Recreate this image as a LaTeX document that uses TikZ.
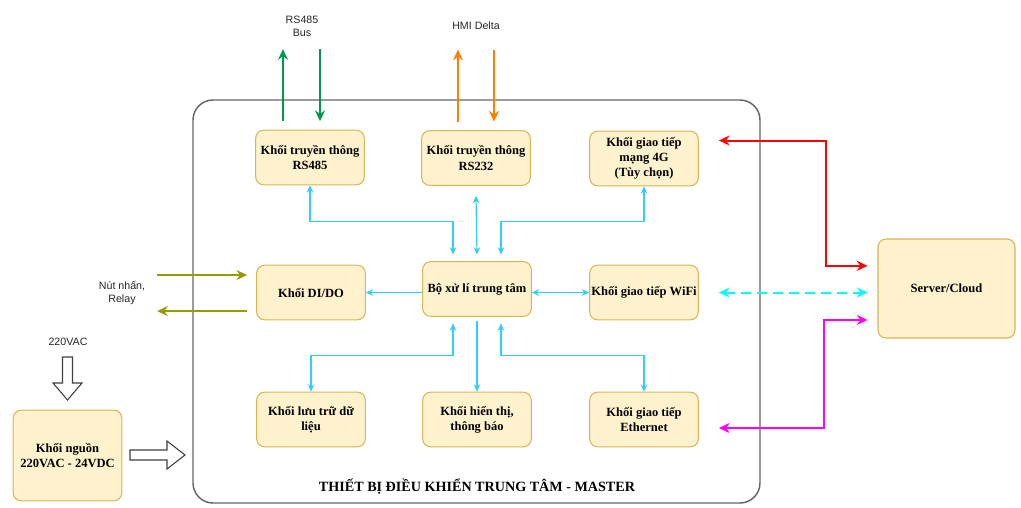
\documentclass[tikz,border=0pt]{standalone}
\usepackage{fontspec}
\setmainfont{Liberation Serif}
\setsansfont{Liberation Sans}
\usetikzlibrary{arrows.meta}
\definecolor{boxfill}{HTML}{FFF2CC}
\definecolor{boxline}{HTML}{D6B656}
\definecolor{conncol}{HTML}{33CCFF}
\definecolor{grn}{HTML}{00994D}
\definecolor{org}{HTML}{FF8000}
\definecolor{oliv}{HTML}{999900}
\definecolor{frame}{HTML}{666666}
\definecolor{cyn}{HTML}{00FFFF}
\definecolor{mag}{HTML}{FF00FF}
\definecolor{rd}{HTML}{FF0000}
\tikzset{
  blk/.style={draw=boxline,fill=boxfill,line width=0.8pt,rounded corners=6pt,
    minimum width=81.5pt,minimum height=41pt,align=center,inner sep=1pt,
    font=\fontsize{9.4pt}{11.3pt}\selectfont\bfseries},
  conn/.style={draw=conncol,line width=0.9pt},
  bi/.style={conn,{Stealth[length=5.5pt,width=5pt]}-{Stealth[length=5.5pt,width=5pt]}},
  uni/.style={conn,-{Stealth[length=5.5pt,width=5pt]}},
  ext/.style={line width=1.5pt,-{Stealth[length=8pt,width=7.5pt]}},
  extrev/.style={line width=1.5pt,{Stealth[length=8pt,width=7.5pt]}-},
  extbi/.style={line width=1.5pt,{Stealth[length=8pt,width=7.5pt]}-{Stealth[length=8pt,width=7.5pt]}},
  lbl/.style={font=\sffamily\fontsize{8pt}{10pt}\selectfont,align=center,text=black!85},
  hollow/.style={draw=black!75,line width=0.8pt,fill=white}
}
\begin{document}
\begin{tikzpicture}[x=0.75pt,y=-0.75pt]
\useasboundingbox (0,0) rectangle (1021,507);
% container
\draw[frame,line width=1.1pt,rounded corners=15pt] (193,100) rectangle (760,503);
\node[font=\fontsize{10.6pt}{12pt}\selectfont\bfseries] (title) at (477,487) {THIẾT BỊ ĐIỀU KHIỂN TRUNG TÂM - MASTER};
% blocks
\node[blk] (rs485) at (310,157.5) {Khối truyền thông\\RS485};
\node[blk] (rs232) at (476,158) {Khối truyền thông\\RS232};
\node[blk] (fourG) at (644,158.5) {Khối giao tiếp\\mạng 4G\\(Tùy chọn)};
\node[blk] (dido) at (311,292.5) {Khối DI/DO};
\node[blk] (cpu) at (477,289) {Bộ xử lí trung tâm};
\node[blk] (wifi) at (644,292.5) {Khối giao tiếp WiFi};
\node[blk] (store) at (311,419.5) {Khối lưu trữ dữ\\liệu};
\node[blk] (disp) at (477,419.5) {Khối hiển thị,\\thông báo};
\node[blk] (eth) at (644,419.5) {Khối giao tiếp\\Ethernet};
\node[blk,minimum height=68pt] (power) at (67.5,455.5) {Khối nguồn\\220VAC - 24VDC};
\node[blk,minimum width=102.75pt,minimum height=74.25pt] (server) at (946.5,288.5) {Server/Cloud};
% internal connectors
\draw[bi] ([xshift=-18pt,yshift=5pt]cpu.north) -- ++(0,-33) -| (rs485.south);
\draw[bi] ([yshift=5pt]cpu.north) -- ([yshift=-7.5pt]rs232.south);
\draw[bi] ([xshift=18pt,yshift=5pt]cpu.north) -- ++(0,-33) -| (fourG.south);
\draw[uni] (dido.east -| cpu.west) -- (dido.east);
\draw[bi] (wifi.west -| cpu.east) -- (wifi.west);
\draw[bi] ([xshift=-18pt,yshift=-5pt]cpu.south) -- ++(0,32) -| (store.north);
\draw[uni] ([yshift=-3pt]cpu.south) -- (disp.north);
\draw[bi] ([xshift=18pt,yshift=-5pt]cpu.south) -- ++(0,32) -| (eth.north);
% RS485 bus
\node[lbl] (buslbl) at (302,26) {RS485\\Bus};
\draw[ext,grn] ([xshift=-20.25pt,yshift=6.4pt]rs485.north) -- ++(0,-72);
\draw[extrev,grn] ([xshift=7.5pt,yshift=6.4pt]rs485.north) -- ++(0,-72);
% HMI
\node[lbl] (hmilbl) at (476,26) {HMI Delta};
\draw[ext,org] ([xshift=-13.5pt,yshift=6.4pt]rs232.north) -- ++(0,-72);
\draw[extrev,org] ([xshift=13.5pt,yshift=6.4pt]rs232.north) -- ++(0,-72);
% server links
\draw[extbi,rd] ([xshift=15pt,yshift=13.5pt]fourG.east) -- ++(107,0) |- ([xshift=-7.5pt,yshift=17pt]server.west);
\draw[extbi,cyn,dash pattern=on 7pt off 5pt] ([xshift=15pt]wifi.east) -- ([xshift=-7.5pt]wifi.east -| server.west);
\draw[extbi,mag] ([xshift=-7.5pt,yshift=-23.6pt]server.west) -- ++(-43,0) |- ([xshift=15pt,yshift=-6.4pt]eth.east);
% DI/DO
\node[lbl] (btnlbl) at (122,293) {Nút nhấn,\\Relay};
\draw[extrev,oliv] ([xshift=-6.75pt,yshift=13.1pt]dido.west) -- ++(-90,0);
\draw[ext,oliv] ([xshift=-6.75pt,yshift=-13.9pt]dido.west) -- ++(-90,0);
% power
\node[lbl] (aclbl) at (68,342) {220VAC};
\draw[hollow] (62.5,357) -- (72.5,357) -- (72.5,383) -- (82,383) -- (67.5,400) -- (53,383) -- (62.5,383) -- cycle;
\draw[hollow] (130,450) -- (167,450) -- (167,441) -- (185,455) -- (167,469) -- (167,460) -- (130,460) -- cycle;
\end{tikzpicture}
\end{document}
